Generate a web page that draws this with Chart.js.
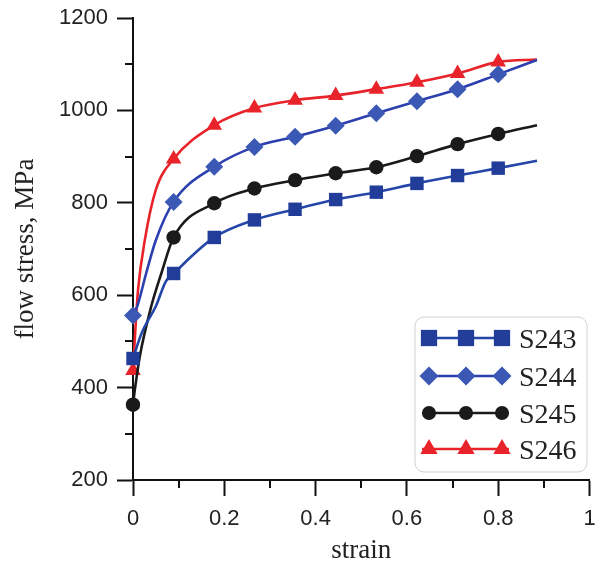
<!DOCTYPE html>
<html>
<head>
<meta charset="utf-8">
<script src="https://cdn.jsdelivr.net/npm/chart.js@4/dist/chart.umd.min.js"></script>
<style>
html,body{margin:0;padding:0;background:#fff;}
#wrap{width:599px;height:567px;position:relative;}
</style>
</head>
<body>
<div id="wrap"><canvas id="c" width="599" height="567"></canvas></div>
<script>
// ---- data ----
const seriesNames = ['S243', 'S244', 'S245', 'S246'];
const markerStrain = [0, 0.089, 0.178, 0.266, 0.355, 0.444, 0.533, 0.622, 0.711, 0.8];

const s243Strain = [0, 0.019, 0.05, 0.072, 0.089, 0.178, 0.266, 0.355, 0.444, 0.533, 0.622, 0.711, 0.8, 0.885];
const s243Stress = [463, 518, 576, 630, 647, 725, 763, 786, 807, 823, 842, 859, 875, 891];

const s244Strain = [0, 0.01, 0.029, 0.05, 0.089, 0.178, 0.266, 0.355, 0.444, 0.533, 0.622, 0.711, 0.8, 0.885];
const s244Stress = [556, 578, 648, 719, 802, 878, 921, 943, 967, 994, 1020, 1046, 1078, 1109];

const s245Strain = [0, 0.004, 0.015, 0.04, 0.062, 0.089, 0.178, 0.266, 0.355, 0.444, 0.533, 0.622, 0.711, 0.8, 0.885];
const s245Stress = [363, 395, 468, 576, 647, 725, 799, 831, 849, 864, 877, 901, 927, 949, 968];

const s246Strain = [0, 0.006, 0.011, 0.026, 0.05, 0.089, 0.178, 0.266, 0.355, 0.444, 0.533, 0.622, 0.711, 0.8, 0.885];
const s246Stress = [437, 539, 611, 720, 828, 895, 968, 1005, 1022, 1032, 1046, 1061, 1080, 1105, 1110];

const yTicks = [200, 400, 600, 800, 1000, 1200];
const yMinorTicks = [300, 500, 700, 900, 1100];
const xTicks = [0, 0.2, 0.4, 0.6, 0.8, 1];
const xMinorTicks = [0.1, 0.3, 0.5, 0.7, 0.9];

// ---- styles ----
const styles = [
  {line: '#2446a8', fill: '#213d99', shape: 'rect', r: 9.5, lr: 11.5},
  {line: '#2c3fae', fill: '#3a58b4', shape: 'rectRot', r: 9, lr: 9.5},
  {line: '#1a1a1a', fill: '#1a1a1a', shape: 'circle', r: 7.2, lr: 7},
  {line: '#e8242a', fill: '#e8242a', shape: 'triangle', r: 9, lr: 10}
];
const strains = [s243Strain, s244Strain, s245Strain, s246Strain];
const stresses = [s243Stress, s244Stress, s245Stress, s246Stress];

function isMarker(x) {
  return markerStrain.some(m => Math.abs(m - x) < 1e-6);
}

const datasets = seriesNames.map((name, i) => ({
  label: name,
  data: strains[i].map((x, j) => ({x: x, y: stresses[i][j]})),
  showLine: true,
  borderColor: styles[i].line,
  borderWidth: 2.6,
  backgroundColor: styles[i].fill,
  pointBackgroundColor: styles[i].fill,
  pointBorderColor: styles[i].fill,
  pointBorderWidth: 0,
  pointStyle: styles[i].shape,
  pointRadius: ctx => isMarker(ctx.raw.x) ? styles[i].r : 0,
  pointHoverRadius: ctx => isMarker(ctx.raw.x) ? styles[i].r : 0,
  cubicInterpolationMode: 'monotone',
  clip: false
}));

const minorTicks = {
  id: 'minorTicks',
  afterDraw(chart) {
    const ctx = chart.ctx;
    const xs = chart.scales.x, ys = chart.scales.y;
    const area = chart.chartArea;
    ctx.save();
    ctx.strokeStyle = '#111';
    ctx.lineWidth = 2;
    ctx.beginPath();
    yMinorTicks.forEach(v => {
      const py = Math.round(ys.getPixelForValue(v));
      ctx.moveTo(area.left, py);
      ctx.lineTo(area.left - 8, py);
    });
    xMinorTicks.forEach(v => {
      const px = Math.round(xs.getPixelForValue(v));
      ctx.moveTo(px, area.bottom);
      ctx.lineTo(px, area.bottom + 8);
    });
    ctx.stroke();
    ctx.restore();
  }
};

const customLegend = {
  id: 'customLegend',
  afterDraw(chart) {
    const ctx = chart.ctx;
    const bx = 415, by = 317, bw = 172, bh = 155, rad = 9;
    ctx.save();
    ctx.beginPath();
    ctx.moveTo(bx + rad, by);
    ctx.arcTo(bx + bw, by, bx + bw, by + bh, rad);
    ctx.arcTo(bx + bw, by + bh, bx, by + bh, rad);
    ctx.arcTo(bx, by + bh, bx, by, rad);
    ctx.arcTo(bx, by, bx + bw, by, rad);
    ctx.closePath();
    ctx.fillStyle = '#ffffff';
    ctx.fill();
    ctx.strokeStyle = '#cfcfcf';
    ctx.lineWidth = 1;
    ctx.stroke();
    const rows = [338, 376, 413, 449];
    const mx = [429, 466, 502];
    seriesNames.forEach((name, i) => {
      const y = rows[i];
      ctx.strokeStyle = styles[i].line;
      ctx.lineWidth = 2.6;
      ctx.beginPath();
      ctx.moveTo(422, y);
      ctx.lineTo(509, y);
      ctx.stroke();
      mx.forEach(x => {
        ctx.fillStyle = styles[i].fill;
        ctx.strokeStyle = styles[i].fill;
        Chart.helpers.drawPoint(ctx, {pointStyle: styles[i].shape, radius: styles[i].lr, borderWidth: 0, rotation: 0}, x, y);
      });
      ctx.fillStyle = '#222';
      ctx.font = '28px "Liberation Serif", "Times New Roman", serif';
      ctx.textAlign = 'left';
      ctx.textBaseline = 'alphabetic';
      ctx.fillText(name, 519, y + 9.5);
    });
    ctx.restore();
  }
};

const tickFont = {family: '"Liberation Sans", Arial, sans-serif', size: 22};
const titleFont = {family: '"Liberation Serif", "Times New Roman", serif', size: 27, lineHeight: 1.2};

function zeroPad(s) {
  s.paddingLeft = 0; s.paddingRight = 0; s.paddingTop = 0; s.paddingBottom = 0;
}

new Chart(document.getElementById('c'), {
  type: 'scatter',
  data: {datasets},
  options: {
    responsive: false,
    animation: false,
    events: [],
    layout: {padding: {top: 18, right: 3, left: 0, bottom: 0}},
    plugins: {legend: {display: false}, tooltip: {enabled: false}},
    scales: {
      x: {
        type: 'linear',
        min: 0, max: 1,
        afterBuildTicks: s => { s.ticks = xTicks.map(v => ({value: v})); },
        afterFit: s => { s.height = 87; zeroPad(s); },
        ticks: {
          font: tickFont, color: '#222', padding: 10, maxRotation: 0, autoSkip: false,
          callback: v => (v === 0 || v === 1) ? String(v) : v.toFixed(1)
        },
        grid: {display: true, drawOnChartArea: false, drawTicks: true, tickLength: 16, tickWidth: 2, tickColor: '#111'},
        border: {display: true, color: '#111', width: 2},
        title: {display: true, text: 'strain', font: titleFont, color: '#222', padding: {top: 0, bottom: 0}}
      },
      y: {
        type: 'linear',
        min: 200, max: 1200,
        afterBuildTicks: s => { s.ticks = yTicks.map(v => ({value: v})); },
        afterFit: s => { s.width = 133; zeroPad(s); },
        ticks: {font: tickFont, color: '#222', padding: 9, autoSkip: false, callback: v => String(v)},
        grid: {display: true, drawOnChartArea: false, drawTicks: true, tickLength: 16, tickWidth: 2, tickColor: '#111'},
        border: {display: true, color: '#111', width: 2},
        title: {display: true, text: 'flow stress, MPa', font: titleFont, color: '#222', padding: {top: 10, bottom: 0}}
      }
    }
  },
  plugins: [minorTicks, customLegend]
});
</script>
</body>
</html>
